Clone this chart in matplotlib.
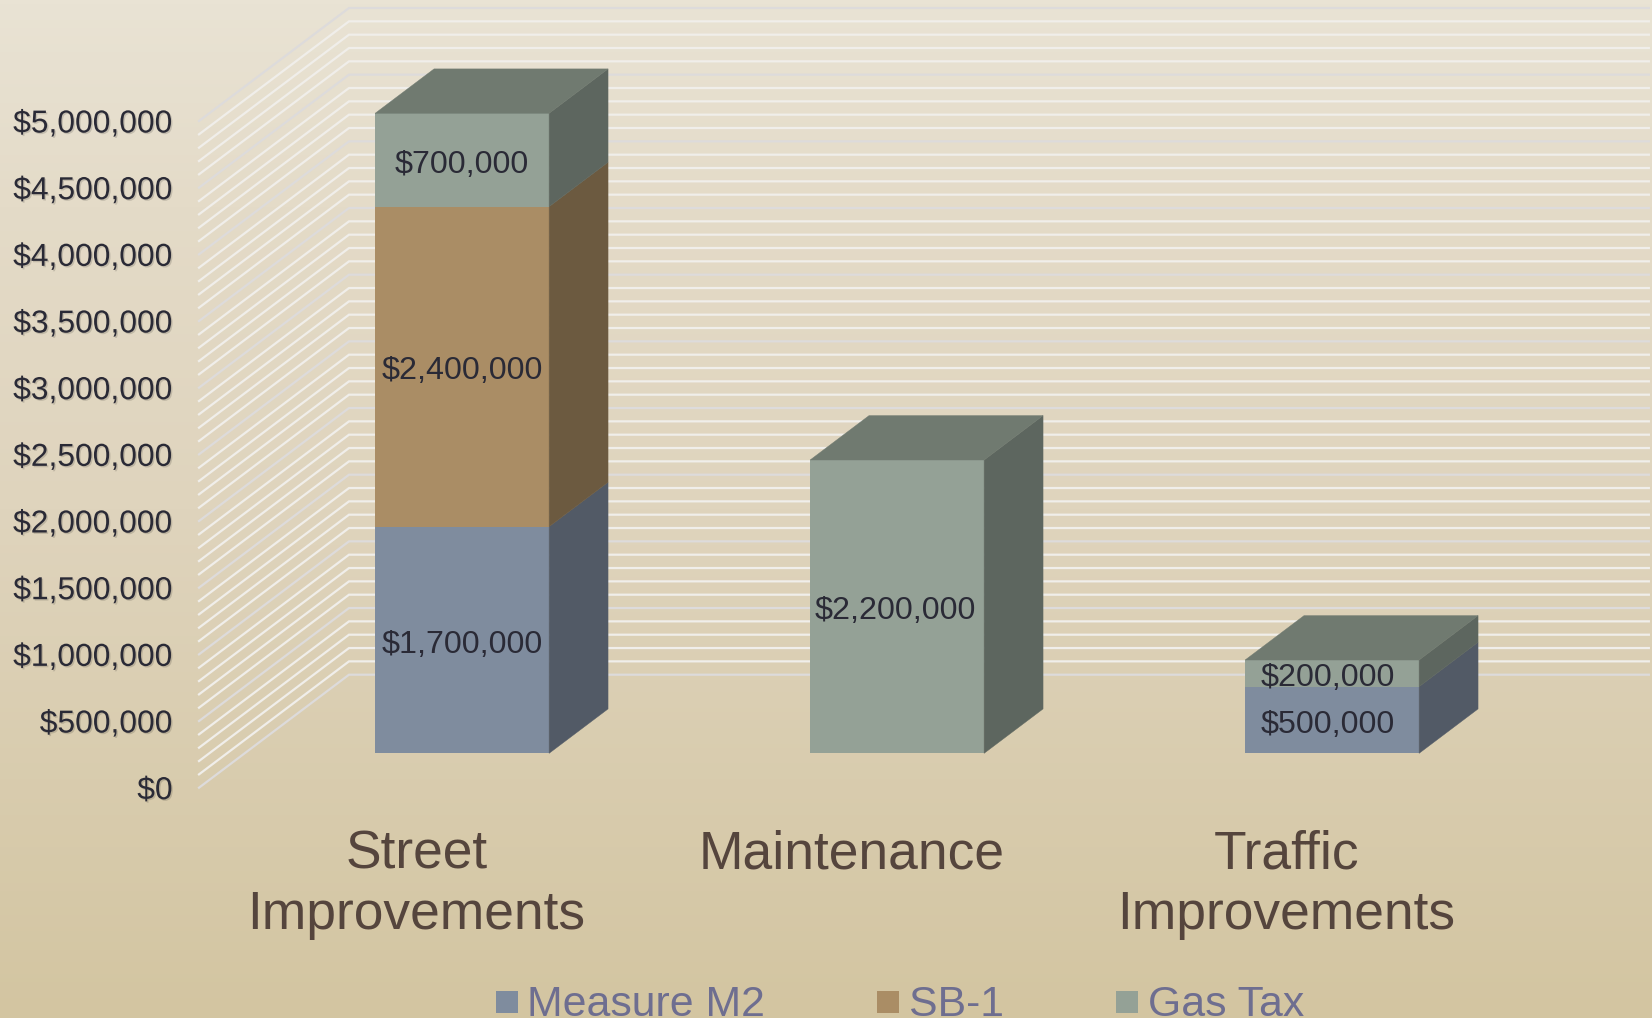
import numpy as np
import matplotlib
matplotlib.use('Agg')
import matplotlib.pyplot as plt
import matplotlib.patheffects as pe
from matplotlib.patches import Polygon, Rectangle

plt.rcParams['font.family'] = ['Liberation Sans', 'DejaVu Sans']

categories = ['Street\nImprovements', 'Maintenance', 'Traffic\nImprovements']
series_names = ['Measure M2', 'SB-1', 'Gas Tax']
measure_m2 = [1700000, 0, 500000]
sb1 = [2400000, 0, 0]
gas_tax = [700000, 2200000, 200000]
tick_values = list(range(0, 5500000, 500000))
tick_labels = ['$' + format(v, ',') for v in tick_values]

front = ['#7f8c9e', '#aa8d65', '#94a196']
side = ['#525a66', '#6c5a40', '#5d665f']
top_color = '#707a70'

W, H = 1652, 1018
fig = plt.figure(figsize=(W / 100, H / 100), dpi=100)

# background gradient
bg = fig.add_axes([0, 0, 1, 1], zorder=0)
stops = [0, 0.2, 0.5, 1]
cols = np.array([matplotlib.colors.to_rgb(c) for c in ['#e9e3d4', '#e4dbc8', '#dfd4bd', '#d3c5a1']])
t = np.linspace(0, 1, 256)
grad = np.stack([np.interp(t, stops, cols[:, j]) for j in range(3)], axis=1)[:, None, :]
bg.imshow(grad, aspect='auto', extent=[0, 1, 0, 1], origin='upper')
bg.axis('off')

# axes = front plane of the 3d box
left, right, ybot, ytop = 199, 1504, 787.7, 121
ax = fig.add_axes([left / W, 1 - ybot / H, (right - left) / W, (ybot - ytop) / H], zorder=1)
ax.set_xlim(0, 3)
ax.set_ylim(0, 5000000)
ax.patch.set_visible(False)
for s in ax.spines.values():
    s.set_visible(False)

# one full depth in data units
DX = 150 / 435
DY = 113 * 7500
bar_depth0 = 0.304
bar_depth = 0.393
bar_w = 0.4
xmax_wall = 3.333
label_shift = [0.0, -0.005, -0.010]


def proj(x, y, d):
    return x + d * DX, y + d * DY


# gridlines on the walls
for v in range(0, 5100000, 100000):
    col = '#dddbdb' if v % 500000 == 0 else '#f0eeea'
    p0 = proj(0, v, 0)
    p1 = proj(0, v, 1)
    ax.plot([p0[0], p1[0], xmax_wall], [p0[1], p1[1], p1[1]], color=col, lw=1.6,
            solid_joinstyle='miter', clip_on=False, zorder=1)

# stacked bars
for i in range(3):
    xc = i + 0.5
    xl, xr = xc - bar_w / 2, xc + bar_w / 2
    bottom = 0
    for k, vals in enumerate([measure_m2, sb1, gas_tax]):
        val = vals[i]
        if val == 0:
            continue
        fx, fy = proj(xc, bottom, bar_depth0)
        ax.bar(fx, val, bar_w, bottom=fy, color=front[k], zorder=3, clip_on=False)
        pts = [proj(xr, bottom, bar_depth0), proj(xr, bottom, bar_depth0 + bar_depth),
               proj(xr, bottom + val, bar_depth0 + bar_depth), proj(xr, bottom + val, bar_depth0)]
        ax.add_patch(Polygon(pts, closed=True, facecolor=side[k], edgecolor=side[k], lw=0.3,
                             zorder=3, clip_on=False))
        lx, ly = proj(xc, bottom + val / 2, bar_depth0)
        ax.text(lx + label_shift[i], ly - 35000, '$' + format(val, ','), ha='center', va='center',
                fontsize=23.2, color='#2a2a36', zorder=5, clip_on=False)
        bottom += val
    pts = [proj(xl, bottom, bar_depth0), proj(xl, bottom, bar_depth0 + bar_depth),
           proj(xr, bottom, bar_depth0 + bar_depth), proj(xr, bottom, bar_depth0)]
    ax.add_patch(Polygon(pts, closed=True, facecolor=top_color, edgecolor=top_color, lw=0.3,
                         zorder=4, clip_on=False))

ax.set_yticks(tick_values)
ax.set_yticklabels(tick_labels, fontsize=22.9, color='#2a2a36')
ax.tick_params(axis='y', length=0, pad=19)
for lab in ax.get_yticklabels():
    lab.set_path_effects([pe.withSimplePatchShadow(offset=(1, -1), alpha=0.14, shadow_rgbFace='#000000')])

ax.set_xticks([0.5, 1.5, 2.5])
ax.set_xticklabels(categories, fontsize=38.4, color='#55453d', linespacing=1.26)
ax.tick_params(axis='x', length=0, pad=30)

# legend, drawn by hand to keep the wide spacing
squares = [496, 877, 1116]
texts = [527, 909, 1148]
for k in range(3):
    fig.add_artist(Rectangle((squares[k] / W, 1 - 1012.7 / H), 22.3 / W, 21.7 / H,
                             transform=fig.transFigure, facecolor=front[k], edgecolor='none', zorder=6))
    fig.text(texts[k] / W, 1 - 1016.5 / H, series_names[k], fontsize=30.8, color='#6e6e90',
             ha='left', va='baseline', zorder=6)

fig.savefig('out.png', dpi=100)
